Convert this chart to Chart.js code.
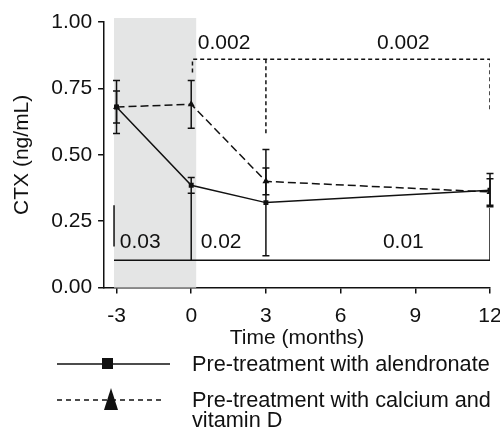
<!DOCTYPE html>
<html>
<head>
<meta charset="utf-8">
<script src="https://cdn.jsdelivr.net/npm/chart.js@4.4.0/dist/chart.umd.min.js"></script>
<style>
  html, body { margin: 0; padding: 0; background: #fff; }
  #wrap { width: 500px; height: 430px; }
</style>
</head>
<body>
<div id="wrap"><canvas id="ctx"></canvas></div>
<script>
const months = [-3, 0, 3, 12];
const xTicks = [-3, 0, 3, 6, 9, 12];
const yTicks = [0, 0.25, 0.5, 0.75, 1.0];

const alendronate = [0.68, 0.385, 0.32, 0.367];
const alendronateErr = [0.10, 0.03, 0.20, 0.063];
const calcium = [0.68, 0.69, 0.40, 0.36];
const calciumErr = [0.06, 0.09, 0.05, 0.05];

const seriesNames = ['Pre-treatment with alendronate', 'Pre-treatment with calcium and vitamin D'];

// pre-treatment period shading (months, CTX)
const shadeX = [-3.1, 0.2];
const shadeY = [0, 1.015];

// significance brackets; null breaks the line
const solidBracket = [
  { x: -3.1, y: 0.31 }, { x: -3.1, y: 0.155 }, { x: -3.1, y: null },
  { x: -3.1, y: 0.103 }, { x: 12, y: 0.103 }, { x: 12, y: 0.30 }, { x: 12, y: null },
  { x: 0, y: 0.355 }, { x: 0, y: 0.103 }
];
const dashedBracket = [
  { x: 0.05, y: 0.81 }, { x: 0.05, y: 0.86 }, { x: 12, y: 0.86 }, { x: 12, y: 0.665 }, { x: 12, y: null },
  { x: 3, y: 0.86 }, { x: 3, y: 0.58 }
];
const pLabels = ['0.002', '0.002', '0.03', '0.02', '0.01'];
const pAt = [[1.32, 0.92], [8.52, 0.92], [-2.05, 0.17], [1.2, 0.17], [8.52, 0.17]];

const INK = '#111';
const FONT = "'Liberation Sans', Arial, Helvetica, sans-serif";

const toPoints = (ys) => ys.map((y, i) => ({ x: months[i], y: y }));

const shadePlugin = {
  id: 'shade',
  beforeDatasetsDraw(chart) {
    const { ctx, scales: { x, y } } = chart;
    ctx.save();
    ctx.fillStyle = '#e4e5e5';
    const x0 = x.getPixelForValue(shadeX[0]), x1 = x.getPixelForValue(shadeX[1]);
    const y0 = y.getPixelForValue(shadeY[1]), y1 = y.getPixelForValue(shadeY[0]);
    ctx.fillRect(x0, y0, x1 - x0, y1 - y0);
    ctx.restore();
  }
};

const errorBarPlugin = {
  id: 'errorBars',
  afterDatasetsDraw(chart) {
    const { ctx, scales: { y } } = chart;
    ctx.save();
    ctx.strokeStyle = INK;
    ctx.lineWidth = 1.5;
    chart.data.datasets.forEach((ds, di) => {
      if (!ds.errors) return;
      const meta = chart.getDatasetMeta(di);
      meta.data.forEach((pt, i) => {
        const v = ds.data[i].y, e = ds.errors[i];
        const top = y.getPixelForValue(v + e), bot = y.getPixelForValue(v - e);
        ctx.beginPath();
        ctx.moveTo(pt.x, top); ctx.lineTo(pt.x, bot);
        ctx.moveTo(pt.x - 3.5, top); ctx.lineTo(pt.x + 3.5, top);
        ctx.moveTo(pt.x - 3.5, bot); ctx.lineTo(pt.x + 3.5, bot);
        ctx.stroke();
      });
    });
    ctx.restore();
  }
};

const labelPlugin = {
  id: 'pLabels',
  afterDatasetsDraw(chart) {
    const { ctx, scales: { x, y } } = chart;
    ctx.save();
    ctx.fillStyle = INK;
    ctx.font = '21px ' + FONT;
    ctx.textAlign = 'center';
    ctx.textBaseline = 'middle';
    pLabels.forEach((t, i) => {
      ctx.fillText(t, x.getPixelForValue(pAt[i][0]), y.getPixelForValue(pAt[i][1]));
    });
    ctx.restore();
  }
};

const legendPlugin = {
  id: 'sideLegend',
  afterDraw(chart) {
    const ctx = chart.ctx;
    ctx.save();
    ctx.strokeStyle = INK;
    ctx.fillStyle = INK;
    ctx.lineWidth = 1.5;
    // row 1: solid line + square
    ctx.beginPath(); ctx.moveTo(57, 364); ctx.lineTo(170, 364); ctx.stroke();
    ctx.fillRect(102, 358, 11, 11);
    // row 2: dashed line + triangle
    ctx.setLineDash([5, 4]);
    ctx.beginPath(); ctx.moveTo(57, 400); ctx.lineTo(165, 400); ctx.stroke();
    ctx.setLineDash([]);
    ctx.beginPath(); ctx.moveTo(111, 388); ctx.lineTo(118, 410); ctx.lineTo(104, 410); ctx.closePath(); ctx.fill();
    ctx.font = '21.7px ' + FONT;
    ctx.textAlign = 'left';
    ctx.textBaseline = 'alphabetic';
    ctx.fillText(seriesNames[0], 192, 371);
    ctx.fillText('Pre-treatment with calcium and', 192, 407);
    ctx.fillText('vitamin D', 192, 427);
    ctx.restore();
  }
};

const axisStyle = {
  grid: { drawOnChartArea: false, drawTicks: true, tickLength: 6, color: INK, lineWidth: 1.5 },
  border: { display: true, color: INK, width: 1.5 },
};

new Chart(document.getElementById('ctx'), {
  type: 'line',
  data: {
    datasets: [
      {
        label: seriesNames[0], data: toPoints(alendronate), errors: alendronateErr,
        borderColor: INK, backgroundColor: INK, borderWidth: 1.5,
        pointStyle: 'rect', pointRadius: 3.5, pointBackgroundColor: INK, pointBorderWidth: 0
      },
      {
        label: seriesNames[1], data: toPoints(calcium), errors: calciumErr,
        borderColor: INK, backgroundColor: INK, borderWidth: 1.5, borderDash: [8, 4],
        pointStyle: 'triangle', pointRadius: 4, pointBackgroundColor: INK, pointBorderWidth: 0
      },
      {
        label: 'solid bracket', data: solidBracket, borderColor: INK, borderWidth: 1.5,
        pointRadius: 0, spanGaps: false
      },
      {
        label: 'dashed bracket', data: dashedBracket, borderColor: INK, borderWidth: 1.5,
        borderDash: [4, 3], pointRadius: 0, spanGaps: false
      }
    ]
  },
  options: {
    responsive: true,
    maintainAspectRatio: false,
    animation: false,
    layout: { padding: { left: 5, right: 0, top: 22, bottom: 79 } },
    plugins: { legend: { display: false }, tooltip: { enabled: false } },
    scales: {
      x: {
        type: 'linear', min: -3.5, max: 12,
        afterBuildTicks: (s) => { s.ticks = xTicks.map((v) => ({ value: v })); },
        afterFit: (s) => { s.paddingRight = 10; },
        ticks: { color: INK, font: { family: FONT, size: 21 }, padding: 10 },
        title: { display: true, text: 'Time (months)', color: INK, font: { family: FONT, size: 21 }, padding: { top: -13, bottom: 0 } },
        ...axisStyle
      },
      y: {
        min: 0, max: 1,
        afterBuildTicks: (s) => { s.ticks = yTicks.map((v) => ({ value: v })); },
        ticks: { color: INK, font: { family: FONT, size: 21 }, padding: 6, callback: (v) => Number(v).toFixed(2) },
        title: { display: true, text: 'CTX (ng/mL)', color: INK, font: { family: FONT, size: 21 }, padding: { top: 5, bottom: 10 } },
        ...axisStyle
      }
    }
  },
  plugins: [shadePlugin, errorBarPlugin, labelPlugin, legendPlugin]
});
</script>
</body>
</html>
